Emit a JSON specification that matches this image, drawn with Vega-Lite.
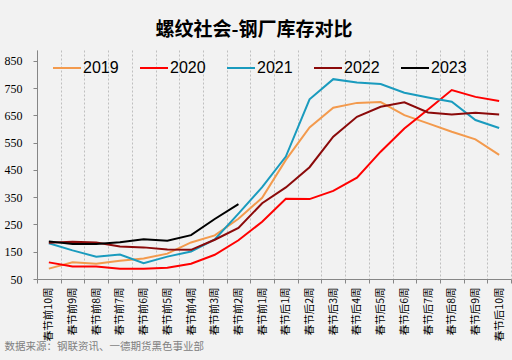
{
  "$schema": "https://vega.github.io/schema/vega-lite/v6.json",
  "width": 474,
  "height": 229,
  "autosize": {"type": "none"},
  "padding": {"left": 37, "top": 50, "right": 1, "bottom": 81},
  "background": "#F2F2F2",
  "title": {"text": "螺纹社会-钢厂库存对比", "font": "Noto Sans CJK SC", "fontSize": 19, "fontWeight": "bold", "color": "#000000", "anchor": "middle", "dx": -20, "offset": -9, "baseline": "bottom"},
  "config": {"view": {"stroke": null, "fill": "#F2F2F2"}},
  "data": {"values": [
    {"week": "春节前10周", "year": "2019", "value": 88},
    {"week": "春节前9周", "year": "2019", "value": 111},
    {"week": "春节前8周", "year": "2019", "value": 106},
    {"week": "春节前7周", "year": "2019", "value": 117},
    {"week": "春节前6周", "year": "2019", "value": 125},
    {"week": "春节前5周", "year": "2019", "value": 143},
    {"week": "春节前4周", "year": "2019", "value": 184},
    {"week": "春节前3周", "year": "2019", "value": 210},
    {"week": "春节前2周", "year": "2019", "value": 271},
    {"week": "春节前1周", "year": "2019", "value": 348},
    {"week": "春节后1周", "year": "2019", "value": 487},
    {"week": "春节后2周", "year": "2019", "value": 606},
    {"week": "春节后3周", "year": "2019", "value": 678},
    {"week": "春节后4周", "year": "2019", "value": 696},
    {"week": "春节后5周", "year": "2019", "value": 699},
    {"week": "春节后6周", "year": "2019", "value": 651},
    {"week": "春节后7周", "year": "2019", "value": 621},
    {"week": "春节后8周", "year": "2019", "value": 590},
    {"week": "春节后9周", "year": "2019", "value": 562},
    {"week": "春节后10周", "year": "2019", "value": 505},
    {"week": "春节前10周", "year": "2020", "value": 111},
    {"week": "春节前9周", "year": "2020", "value": 96},
    {"week": "春节前8周", "year": "2020", "value": 96},
    {"week": "春节前7周", "year": "2020", "value": 88},
    {"week": "春节前6周", "year": "2020", "value": 88},
    {"week": "春节前5周", "year": "2020", "value": 91},
    {"week": "春节前4周", "year": "2020", "value": 106},
    {"week": "春节前3周", "year": "2020", "value": 139},
    {"week": "春节前2周", "year": "2020", "value": 192},
    {"week": "春节前1周", "year": "2020", "value": 260},
    {"week": "春节后1周", "year": "2020", "value": 344},
    {"week": "春节后2周", "year": "2020", "value": 343},
    {"week": "春节后3周", "year": "2020", "value": 373},
    {"week": "春节后4周", "year": "2020", "value": 422},
    {"week": "春节后5周", "year": "2020", "value": 517},
    {"week": "春节后6周", "year": "2020", "value": 602},
    {"week": "春节后7周", "year": "2020", "value": 672},
    {"week": "春节后8周", "year": "2020", "value": 743},
    {"week": "春节后9周", "year": "2020", "value": 718},
    {"week": "春节后10周", "year": "2020", "value": 703},
    {"week": "春节前10周", "year": "2021", "value": 181},
    {"week": "春节前9周", "year": "2021", "value": 155},
    {"week": "春节前8周", "year": "2021", "value": 132},
    {"week": "春节前7周", "year": "2021", "value": 140},
    {"week": "春节前6周", "year": "2021", "value": 108},
    {"week": "春节前5周", "year": "2021", "value": 132},
    {"week": "春节前4周", "year": "2021", "value": 151},
    {"week": "春节前3周", "year": "2021", "value": 195},
    {"week": "春节前2周", "year": "2021", "value": 290},
    {"week": "春节前1周", "year": "2021", "value": 387},
    {"week": "春节后1周", "year": "2021", "value": 499},
    {"week": "春节后2周", "year": "2021", "value": 709},
    {"week": "春节后3周", "year": "2021", "value": 783},
    {"week": "春节后4周", "year": "2021", "value": 771},
    {"week": "春节后5周", "year": "2021", "value": 765},
    {"week": "春节后6周", "year": "2021", "value": 733},
    {"week": "春节后7周", "year": "2021", "value": 716},
    {"week": "春节后8周", "year": "2021", "value": 700},
    {"week": "春节后9周", "year": "2021", "value": 633},
    {"week": "春节后10周", "year": "2021", "value": 604},
    {"week": "春节前10周", "year": "2022", "value": 183},
    {"week": "春节前9周", "year": "2022", "value": 187},
    {"week": "春节前8周", "year": "2022", "value": 184},
    {"week": "春节前7周", "year": "2022", "value": 169},
    {"week": "春节前6周", "year": "2022", "value": 166},
    {"week": "春节前5周", "year": "2022", "value": 158},
    {"week": "春节前4周", "year": "2022", "value": 157},
    {"week": "春节前3周", "year": "2022", "value": 194},
    {"week": "春节前2周", "year": "2022", "value": 237},
    {"week": "春节前1周", "year": "2022", "value": 328},
    {"week": "春节后1周", "year": "2022", "value": 386},
    {"week": "春节后2周", "year": "2022", "value": 460},
    {"week": "春节后3周", "year": "2022", "value": 572},
    {"week": "春节后4周", "year": "2022", "value": 645},
    {"week": "春节后5周", "year": "2022", "value": 682},
    {"week": "春节后6周", "year": "2022", "value": 698},
    {"week": "春节后7周", "year": "2022", "value": 661},
    {"week": "春节后8周", "year": "2022", "value": 653},
    {"week": "春节后9周", "year": "2022", "value": 660},
    {"week": "春节后10周", "year": "2022", "value": 653},
    {"week": "春节前10周", "year": "2023", "value": 188},
    {"week": "春节前9周", "year": "2023", "value": 178},
    {"week": "春节前8周", "year": "2023", "value": 178},
    {"week": "春节前7周", "year": "2023", "value": 185},
    {"week": "春节前6周", "year": "2023", "value": 196},
    {"week": "春节前5周", "year": "2023", "value": 190},
    {"week": "春节前4周", "year": "2023", "value": 211},
    {"week": "春节前3周", "year": "2023", "value": 270},
    {"week": "春节前2周", "year": "2023", "value": 325}
  ]},
  "mark": {"type": "line"},
  "encoding": {
    "x": {
      "field": "week", "type": "ordinal",
      "sort": ["春节前10周","春节前9周","春节前8周","春节前7周","春节前6周","春节前5周","春节前4周","春节前3周","春节前2周","春节前1周","春节后1周","春节后2周","春节后3周","春节后4周","春节后5周","春节后6周","春节后7周","春节后8周","春节后9周","春节后10周"],
      "scale": {"type": "band", "paddingInner": 0, "paddingOuter": 0},
      "axis": {
        "title": "数据来源：钢联资讯、一德期货黑色事业部",
        "titleFont": "Noto Sans CJK SC", "titleFontSize": 10.5, "titleFontWeight": "normal", "titleColor": "#808080",
        "titleAnchor": "start", "titleAlign": "left", "titleBaseline": "middle", "titleX": -33, "titleY": 67,
        "labelAngle": 270, "labelAlign": "right", "labelBaseline": "middle",
        "labelFont": "Noto Sans CJK SC", "labelFontSize": 10.5, "labelColor": "#000000", "labelPadding": 4,
        "tickBand": "extent", "ticks": true, "tickSize": 4, "tickColor": "#868686",
        "domainColor": "#868686",
        "grid": true, "gridDash": [2, 2], "gridColor": "#BFBFBF", "gridWidth": 1
      }
    },
    "y": {
      "field": "value", "type": "quantitative",
      "scale": {"domain": [50, 890], "nice": false, "zero": false},
      "axis": {
        "values": [50, 150, 250, 350, 450, 550, 650, 750, 850],
        "title": null, "grid": false,
        "labelFont": "Liberation Serif", "labelFontSize": 12, "labelColor": "#000000", "labelPadding": 11,
        "tickSize": 4, "tickColor": "#868686", "domainColor": "#868686"
      }
    },
    "color": {
      "field": "year", "type": "nominal",
      "scale": {"domain": ["2019", "2020", "2021", "2022", "2023"], "range": ["#F39A4D", "#FF0000", "#1A9BBE", "#8B0A0A", "#000000"]},
      "legend": {"orient": "none", "legendX": 15, "legendY": 3, "direction": "horizontal", "columns": 5, "title": null, "symbolType": "stroke", "symbolSize": 784, "labelFont": "Liberation Sans", "labelFontSize": 16, "labelColor": "#000000", "labelOffset": 1, "columnPadding": 17, "padding": 0,
        "encode": {"symbols": {"update": {"strokeWidth": {"signal": "datum.value === '2023' ? 3.5 : 2"}}}}}
    },
    "strokeWidth": {
      "field": "year", "type": "nominal",
      "scale": {"domain": ["2019", "2020", "2021", "2022", "2023"], "range": [2, 2, 2, 2, 3.5]},
      "legend": null
    }
  }
}
